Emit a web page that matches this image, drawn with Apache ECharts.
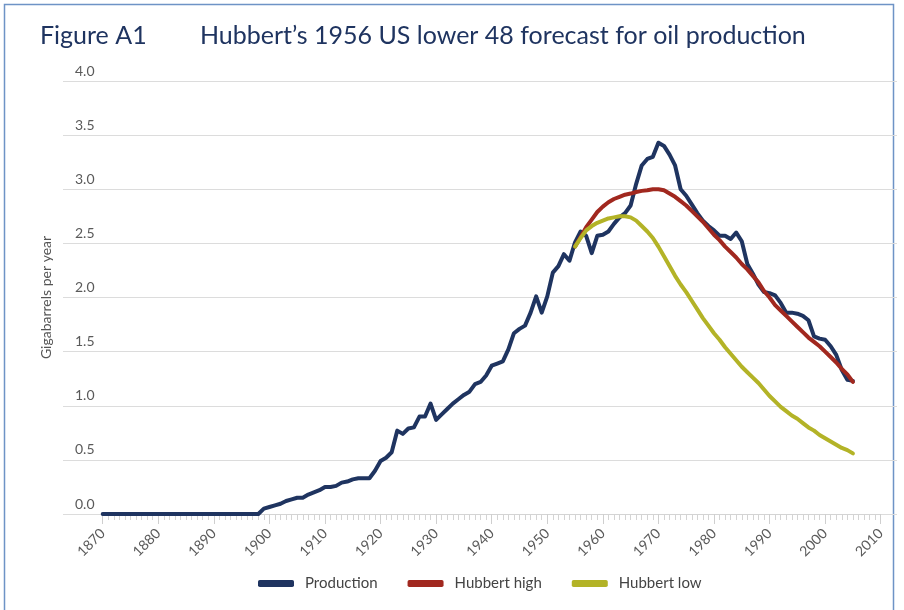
<!DOCTYPE html>
<html><head><meta charset="utf-8">
<script src="https://cdn.jsdelivr.net/npm/echarts@6/dist/echarts.min.js"></script>
<style>html,body{margin:0;padding:0;background:#fff}#c{width:904px;height:610px}</style>
</head><body><div id="c"></div>
<script>
// ---- data ----
const titleLeft = 'Figure A1';
const titleMain = 'Hubbert\u2019s 1956 US lower 48 forecast for oil production';
const yAxisName = 'Gigabarrels per year';
const seriesNames = ['Production', 'Hubbert high', 'Hubbert low'];
const xTickLabels = [1870,1880,1890,1900,1910,1920,1930,1940,1950,1960,1970,1980,1990,2000,2010];
const yTickLabels = ['0.0','0.5','1.0','1.5','2.0','2.5','3.0','3.5','4.0'];

const productionStart = 1870;
const production = [
  // 1870-1898
  0,0,0,0,0,0,0,0,0,0, 0,0,0,0,0,0,0,0,0,0, 0,0,0,0,0,0,0,0,0,
  // 1899-1909
  0.05,0.065,0.08,0.095,0.12,0.135,0.15,0.15,0.18,0.20,0.22,
  // 1910-1919
  0.25,0.25,0.26,0.29,0.30,0.32,0.33,0.33,0.33,0.40,
  // 1920-1929
  0.49,0.52,0.57,0.77,0.74,0.79,0.80,0.90,0.90,1.02,
  // 1930-1939
  0.87,0.92,0.97,1.02,1.06,1.10,1.13,1.20,1.22,1.28,
  // 1940-1949
  1.37,1.39,1.41,1.52,1.67,1.71,1.74,1.86,2.01,1.86,
  // 1950-1959
  2.01,2.23,2.29,2.40,2.34,2.51,2.61,2.57,2.41,2.57,
  // 1960-1969
  2.58,2.61,2.68,2.74,2.78,2.85,3.05,3.22,3.28,3.30,
  // 1970-1979
  3.43,3.40,3.32,3.22,3.00,2.94,2.86,2.78,2.71,2.66,
  // 1980-1989
  2.62,2.57,2.57,2.54,2.60,2.52,2.31,2.22,2.12,2.05,
  // 1990-1999
  2.04,2.02,1.95,1.86,1.86,1.85,1.83,1.79,1.64,1.62,
  // 2000-2005
  1.61,1.55,1.47,1.33,1.24,1.23
];

const hubbertStart = 1955;
const hubbertHigh = [
  2.47,2.56,2.65,2.72,2.79, 2.84,2.88,2.91,2.93,2.95, 2.96,2.975,2.985,2.99,3.0,
  3.0,2.99,2.96,2.93,2.89, 2.85,2.80,2.75,2.70,2.64, 2.58,2.53,2.47,2.42,2.37,
  2.31,2.26,2.20,2.14,2.06, 2.00,1.93,1.88,1.83,1.78, 1.73,1.68,1.63,1.59,1.55,
  1.50,1.45,1.40,1.34,1.29, 1.22
];
const hubbertLow = [
  2.47,2.55,2.62,2.66,2.69, 2.71,2.73,2.74,2.75,2.75, 2.74,2.71,2.66,2.61,2.55,
  2.47,2.38,2.29,2.20,2.12, 2.05,1.97,1.89,1.81,1.74, 1.67,1.61,1.54,1.48,1.42,
  1.36,1.31,1.26,1.21,1.15, 1.09,1.04,0.99,0.95,0.91, 0.88,0.84,0.80,0.77,0.73,
  0.70,0.67,0.64,0.61,0.59, 0.56
];

// ---- chart ----
const toPairs = (start, arr) => arr.map((v, i) => [start + i, v]);
const colors = ['#1f3460', '#a1281f', '#b3b327'];
const FONT = 'Lato';
const chart = echarts.init(document.getElementById('c'), null, {renderer: 'canvas'});

const lineSeries = (name, data, color) => ({
  name, type: 'line', xAxisIndex: 1, yAxisIndex: 1, data,
  showSymbol: false, symbol: 'none', smooth: false,
  lineStyle: {color, width: 4, cap: 'round', join: 'round'},
  itemStyle: {color}, emphasis: {disabled: true}, animation: false
});

chart.setOption({
  animation: false,
  textStyle: {fontFamily: FONT},
  title: [
    {text: titleLeft, left: 35, top: 18, textStyle: {fontFamily: FONT, fontSize: 25, fontWeight: 'normal', color: '#1f3460'}},
    {text: titleMain, left: 195, top: 18, textStyle: {fontFamily: FONT, fontSize: 25, fontWeight: 'normal', color: '#1f3460'}}
  ],
  graphic: [
    {type: 'rect', shape: {x: 4.5, y: 4.5, width: 889, height: 640}, style: {fill: 'none', stroke: '#6e93c6', lineWidth: 1.5}, silent: true}
  ],
  legend: {
    data: seriesNames, left: 253, top: 571, itemWidth: 36, itemHeight: 7, itemGap: 30,
    icon: 'roundRect',
    textStyle: {fontFamily: FONT, fontSize: 15, color: '#444', padding: [0, 0, 0, 6]}
  },
  grid: [
    {left: 63, right: 7, top: 81, bottom: 96},
    {left: 102.7, right: 23.3, top: 81, bottom: 96}
  ],
  xAxis: [
    {gridIndex: 0, type: 'value', min: 0, max: 1, show: false},
    {gridIndex: 1, type: 'value', min: xTickLabels[0], max: xTickLabels[xTickLabels.length - 1], interval: 10,
     axisLine: {show: true, lineStyle: {color: '#d4d4d4', width: 1}},
     axisTick: {show: true, length: 10, lineStyle: {color: '#cfcfcf'}},
     minorTick: {show: true, splitNumber: 10, length: 6, lineStyle: {color: '#d4d4d4'}},
     splitLine: {show: false}, minorSplitLine: {show: false},
     axisLabel: {rotate: 45, margin: 17, color: '#5a5a5a', fontSize: 14, fontFamily: FONT,
                 formatter: v => xTickLabels.indexOf(v) >= 0 ? String(v) : ''}}
  ],
  yAxis: [
    {gridIndex: 0, type: 'value', min: 0, max: 4, interval: 0.5,
     name: yAxisName, nameLocation: 'middle', nameGap: 10, nameRotate: 90,
     nameTextStyle: {fontFamily: FONT, fontSize: 14, color: '#555'},
     axisLine: {show: false}, axisTick: {show: false},
     splitLine: {show: true, lineStyle: {color: '#dcdcdc', width: 1}},
     axisLabel: {inside: true, margin: 12, color: '#5a5a5a', fontSize: 14, fontFamily: FONT,
                 verticalAlign: 'bottom', padding: [0, 0, 3, 0],
                 formatter: v => yTickLabels[Math.round(v * 2)] || ''}},
    {gridIndex: 1, type: 'value', min: 0, max: 4, interval: 0.5, show: false, splitLine: {show: false}}
  ],
  series: [
    lineSeries(seriesNames[0], toPairs(productionStart, production), colors[0]),
    lineSeries(seriesNames[1], toPairs(hubbertStart, hubbertHigh), colors[1]),
    lineSeries(seriesNames[2], toPairs(hubbertStart, hubbertLow), colors[2])
  ]
});
</script></body></html>
